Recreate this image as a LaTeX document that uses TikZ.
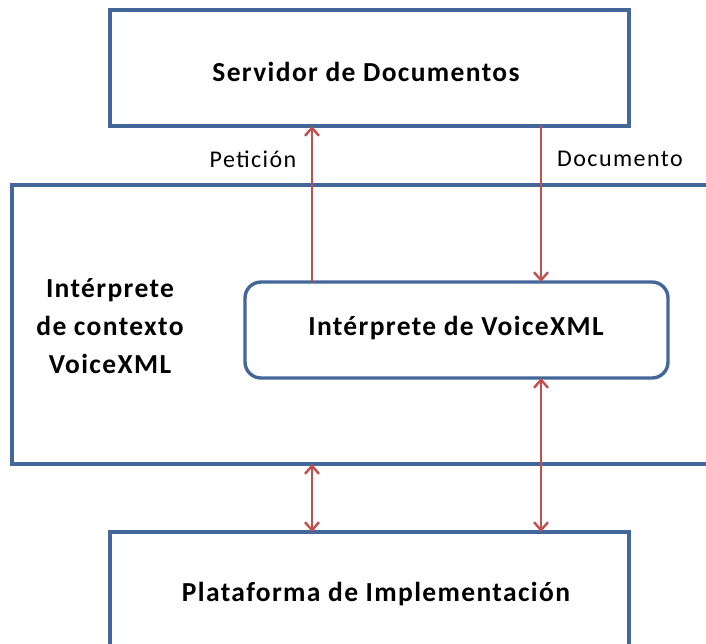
\documentclass[tikz,border=0pt]{standalone}
\usepackage{fontspec}
\setmainfont{Carlito}
\usetikzlibrary{arrows.meta}
\definecolor{boxblue}{HTML}{44679A}
\definecolor{arrowred}{HTML}{C0504D}
\newfontfamily\titlefont[LetterSpace=5]{Carlito}
\newfontfamily\labelfont[LetterSpace=6]{Carlito}
\begin{document}
\begin{tikzpicture}[x=1pt,y=-1pt,
  frame/.style={draw=boxblue,line width=3.4pt},
  flow/.style={draw=arrowred,line width=2.6pt,-{Straight Barb[length=8pt,width=14pt,line width=2.4pt]}},
  flow2/.style={draw=arrowred,line width=2.6pt,{Straight Barb[length=8pt,width=14pt,line width=2.4pt]}-{Straight Barb[length=8pt,width=14pt,line width=2.4pt]}},
  title/.style={font=\titlefont\fontsize{27.5}{38}\selectfont\bfseries,text=black},
  lbl/.style={font=\labelfont\fontsize{24}{28}\selectfont,text=black}]
\useasboundingbox (0,0) rectangle (706,643);
\begin{scope}
\clip (0,0) rectangle (706,643);
% outer boxes
\draw[frame] (110,10) rectangle (629,126);
\draw[frame] (12,185) rectangle (720,464);
\draw[frame] (110,532) rectangle (629,660);
\draw[frame,rounded corners=16pt] (245,282) rectangle (668,378);
\end{scope}
\node[title] (srv) at (366,72) {Servidor de Documentos};
\node[title] (vxml) at (456,328) {Intérprete de VoiceXML};
\node[title,align=center] (ctx) at (110,326) {Intérprete\\de contexto\\VoiceXML};
\node[title] (plat) at (376,594) {Plataforma de Implementación};
\node[lbl] (pet) at (253,159) {Petición};
\node[lbl] (doc) at (620,159) {Documento};
% connectors
\coordinate (srvL) at (312,126);
\coordinate (srvR) at (541,126);
\coordinate (vxT1) at (312,282);
\coordinate (vxT2) at (541,282);
\coordinate (vxB) at (541,378);
\coordinate (ctxB) at (312,464);
\coordinate (platL) at (312,532);
\coordinate (platR) at (541,532);
\draw[flow] (vxT1) -- (srvL);
\draw[flow] (srvR) -- (vxT2);
\draw[flow2] (vxB) -- (platR);
\draw[flow2] (ctxB) -- (platL);
\end{tikzpicture}
\end{document}
